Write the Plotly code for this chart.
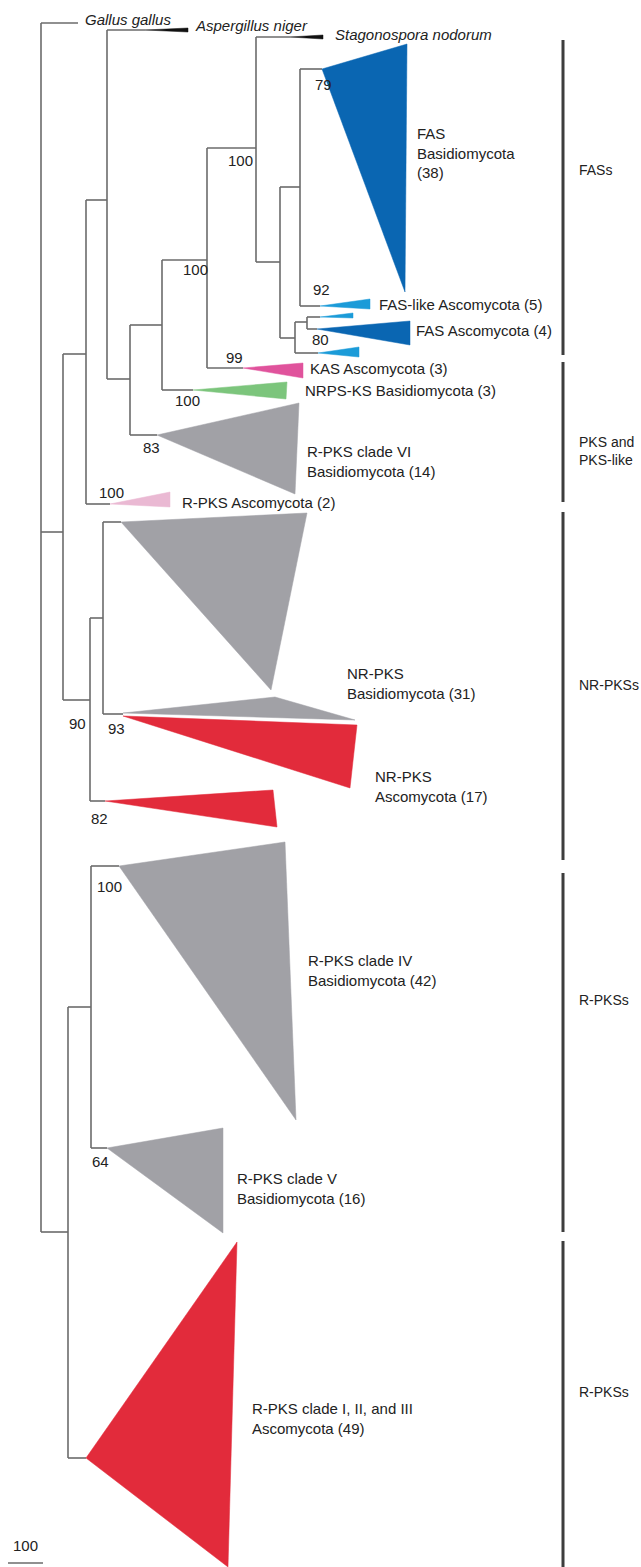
import plotly.graph_objects as go

W, H = 641, 1567
LINE = "#6b6b6b"
FONT = "Liberation Sans, Arial, sans-serif"
FS = 15

# ---- tree nodes: id, parent, depth (x), vertical position (y) ----
node_id = ["root", "gallus", "n63", "n86", "n107", "asper", "n130", "n162", "n207", "n256",
           "stago", "n280", "n300", "fasbas", "faslike", "n295", "n307", "lb1", "fasasc", "lb2",
           "kas", "nrps", "rpks6", "rpksasc", "n90", "n103", "nrbas", "n123", "nrasc2",
           "n68", "n91", "rpks4", "rpks5", "rpks123"]
node_parent = [None, "root", "root", "n63", "n86", "n107", "n107", "n130", "n162", "n207",
               "n256", "n256", "n280", "n300", "n300", "n280", "n295", "n307", "n307", "n295",
               "n207", "n162", "n130", "n86", "n63", "n90", "n103", "n103", "n90",
               "root", "n68", "n91", "n91", "n68"]
node_x = [41, 78, 63, 86, 107, 145, 130, 162, 207, 256,
          290, 280, 300, 322, 320, 295, 307, 320, 317, 318,
          243, 193, 157, 110, 90, 103, 121, 123, 105,
          68, 91, 119, 107, 86]
node_y = [None, 23, 532, 354, 200, 30, 379, 325, 260, 148,
          37, 262, 187, 69, 306, 338, 322, 317, 329, 353,
          368, 390, 435, 504, 700, 618, 522, 714, 801,
          1232, 1007, 866, 1148, 1458]

# ---- collapsed clades: apex node, colour, far corners ----
clade_node = ["fasbas", "faslike", "lb1", "fasasc", "lb2", "kas", "nrps", "rpks6", "rpksasc",
              "nrbas", "n123", "n123", "nrasc2", "rpks4", "rpks5", "rpks123", "asper", "stago"]
clade_color = ["#0a66b2", "#1b9bd8", "#1b9bd8", "#0a66b2", "#1b9bd8", "#e0539c", "#7cc57c",
               "#a1a1a6", "#eab9d3", "#a1a1a6", "#a1a1a6", "#e22b3b", "#e22b3b",
               "#a1a1a6", "#a1a1a6", "#e22b3b", "#111111", "#111111"]
clade_x1 = [407, 370, 353, 410, 359, 303, 287, 299, 170, 307, 275, 357, 273, 285, 223, 237, 188, 323]
clade_y1 = [44, 299, 313, 321, 347, 363, 382, 403, 492, 513, 697, 725, 790, 842, 1128, 1242, 28, 35]
clade_x2 = [405, 370, 353, 410, 359, 303, 286, 295, 170, 271, 355, 350, 277, 296, 223, 228, 188, 323]
clade_y2 = [292, 309, 318, 345, 357, 378, 399, 494, 507, 690, 720, 788, 827, 1120, 1233, 1567, 32, 39]
clade_apex_dy = [0, 0, 0, 0, 0, 0, 0, 0, 0, 0, -1, 2, 0, 0, 0, 0, 0, 0]

# ---- bootstrap values ----
boot_text = ["79", "100", "100", "92", "80", "99", "100", "83", "100", "90", "93", "82", "100", "64"]
boot_x = [323, 240, 195, 321, 320, 234, 187, 151, 111, 77, 116, 99, 109, 100]
boot_y = [84, 160, 269, 289, 339, 357, 400, 447, 492, 723, 728, 818, 886, 1161]

# ---- clade labels ----
lab_text = ["FAS<br>Basidiomycota<br>(38)", "FAS-like Ascomycota (5)", "FAS Ascomycota (4)",
            "KAS Ascomycota (3)", "NRPS-KS Basidiomycota (3)",
            "R-PKS clade VI<br>Basidiomycota (14)", "R-PKS Ascomycota (2)",
            "NR-PKS<br>Basidiomycota (31)", "NR-PKS<br>Ascomycota (17)",
            "R-PKS clade IV<br>Basidiomycota (42)", "R-PKS clade V<br>Basidiomycota (16)",
            "R-PKS clade I, II, and III<br>Ascomycota (49)",
            "<i>Gallus gallus</i>", "<i>Aspergillus niger</i>", "<i>Stagonospora nodorum</i>"]
lab_x = [415, 377, 414, 308, 303, 305, 180, 345, 373, 306, 235, 250, 83, 193, 333]
lab_y = [153, 304, 330, 368, 390, 461, 502, 683, 786, 970, 1188, 1418, 19, 25, 34]

# ---- group brackets ----
grp_text = ["FASs", "PKS and<br>PKS-like", "NR-PKSs", "R-PKSs", "R-PKSs"]
grp_y0 = [40, 362, 512, 873, 1241]
grp_y1 = [355, 502, 860, 1232, 1567]
grp_label_y = [170, 451, 685, 1000, 1392]

# ---- scale bar ----
scale_text = "100"
scale_x0, scale_x1, scale_y = 8, 43, 1563

fig = go.Figure()
pos = {n: i for i, n in enumerate(node_id)}

hx, hy = [], []
for i, n in enumerate(node_id):
    p = node_parent[i]
    if p is None:
        continue
    hx += [node_x[pos[p]], node_x[i], None]
    hy += [node_y[i], node_y[i], None]
vx, vy = [], []
for i, n in enumerate(node_id):
    kids = [j for j, p in enumerate(node_parent) if p == n]
    if len(kids) < 2:
        continue
    ys = [node_y[j] for j in kids]
    vx += [node_x[i], node_x[i], None]
    vy += [min(ys), max(ys), None]
fig.add_trace(go.Scatter(x=hx + vx, y=hy + vy, mode="lines",
                         line=dict(color=LINE, width=1.6), hoverinfo="skip", showlegend=False))

for k, n in enumerate(clade_node):
    ax, ay = node_x[pos[n]], node_y[pos[n]] + clade_apex_dy[k]
    fig.add_trace(go.Scatter(x=[ax, clade_x1[k], clade_x2[k], ax],
                             y=[ay, clade_y1[k], clade_y2[k], ay],
                             mode="lines", fill="toself", fillcolor=clade_color[k],
                             line=dict(color=clade_color[k], width=0.5),
                             hoverinfo="skip", showlegend=False))

for k in range(len(grp_text)):
    fig.add_trace(go.Scatter(x=[563, 563], y=[grp_y0[k], grp_y1[k]], mode="lines",
                             line=dict(color="#3d3d3d", width=3),
                             hoverinfo="skip", showlegend=False))
    fig.add_annotation(x=577, y=grp_label_y[k], text=grp_text[k], showarrow=False,
                       xanchor="left", yanchor="middle", align="left",
                       font=dict(family=FONT, size=14, color="#222"))

fig.add_trace(go.Scatter(x=[scale_x0, scale_x1], y=[scale_y, scale_y], mode="lines",
                         line=dict(color=LINE, width=1.6), hoverinfo="skip", showlegend=False))
fig.add_annotation(x=(scale_x0 + scale_x1) / 2, y=1545, text=scale_text, showarrow=False,
                   xanchor="center", yanchor="middle", font=dict(family=FONT, size=FS, color="#222"))

for k in range(len(boot_text)):
    fig.add_annotation(x=boot_x[k], y=boot_y[k], text=boot_text[k], showarrow=False,
                       xanchor="center", yanchor="middle",
                       font=dict(family=FONT, size=FS, color="#222"))

for k in range(len(lab_text)):
    fig.add_annotation(x=lab_x[k], y=lab_y[k], text=lab_text[k], showarrow=False,
                       xanchor="left", yanchor="middle", align="left",
                       font=dict(family=FONT, size=FS, color="#222"))

fig.update_layout(width=W, height=H, margin=dict(l=0, r=0, t=0, b=0),
                  paper_bgcolor="white", plot_bgcolor="white",
                  xaxis=dict(range=[0, W], visible=False, fixedrange=True),
                  yaxis=dict(range=[H, 0], visible=False, fixedrange=True),
                  showlegend=False)
fig.write_html("out.html", config={"displayModeBar": False},
               post_script="document.body.style.margin='0px';document.body.style.overflow='hidden';")
